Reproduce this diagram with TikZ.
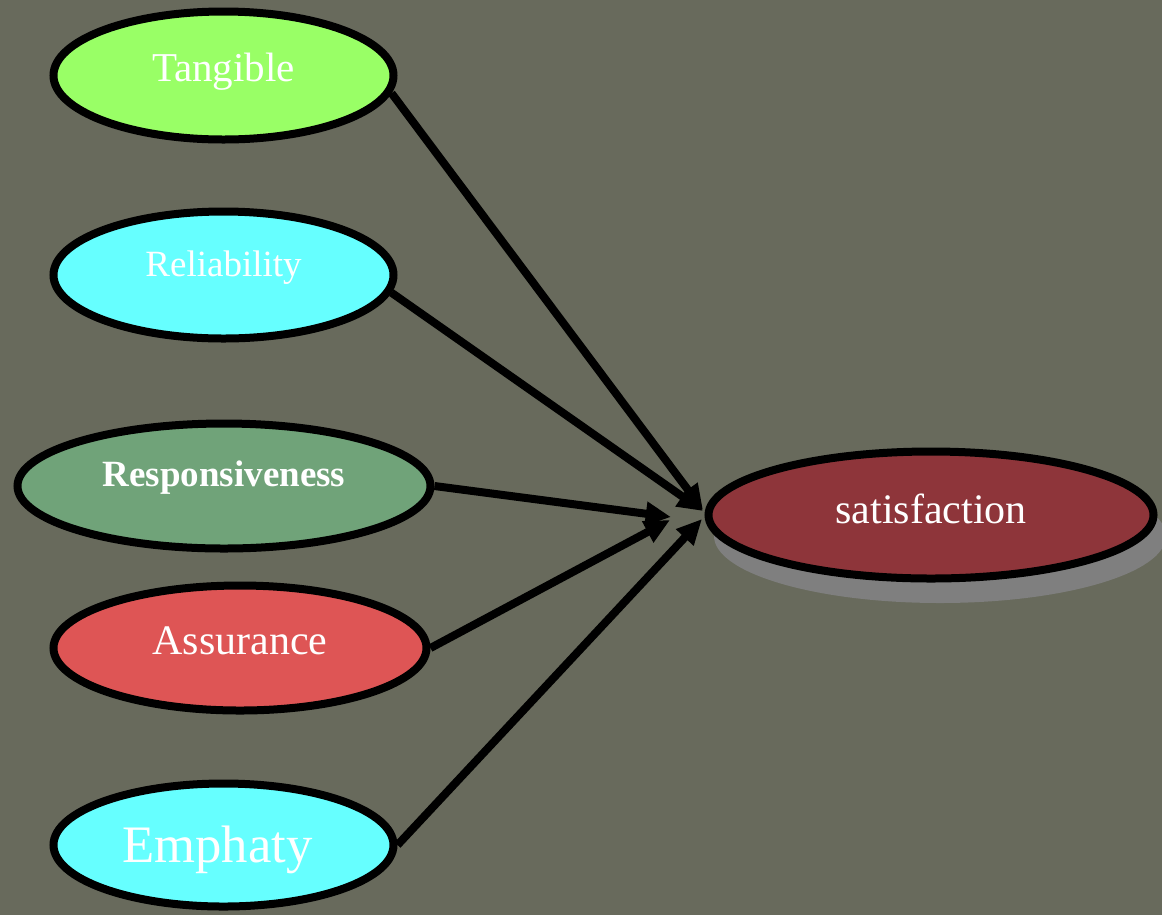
\documentclass[tikz,border=0pt]{standalone}
\usepackage{fontspec}
\setmainfont{Liberation Serif}
\usetikzlibrary{shapes.geometric,arrows.meta}

\definecolor{bgolive}{RGB}{104,106,92}
\definecolor{tangfill}{RGB}{153,255,102}
\definecolor{cyanfill}{RGB}{102,255,255}
\definecolor{respfill}{RGB}{112,163,121}
\definecolor{assufill}{RGB}{222,85,85}
\definecolor{satfill}{RGB}{142,53,58}
\definecolor{shadowgrey}{RGB}{127,127,127}

\tikzset{
  factor/.style={ellipse, draw=black, line width=6pt, inner sep=0pt,
    text=white, text depth=0pt},
  link/.style={line width=6pt, draw=black,
    -{Triangle[length=19pt,width=17pt]}},
}

\begin{document}
\begin{tikzpicture}[x=0.75pt,y=-0.75pt]
  % canvas
  \fill[bgolive] (0,0) rectangle (1162,915);
  \useasboundingbox (0,0) rectangle (1162,915);

  % shadow under the outcome ellipse
  \fill[shadowgrey] (940,536) ellipse [x radius=226, y radius=67];

  % predictor ellipses
  \node[factor, fill=tangfill, minimum width=255pt, minimum height=96pt,
        text height=9pt, font=\fontsize{30.75}{32}\selectfont]
        (tang) at (223.5,75.5) {Tangible};
  \node[factor, fill=cyanfill, minimum width=255pt, minimum height=95.25pt,
        text height=1.5pt, font=\fontsize{27.75}{30}\selectfont]
        (reli) at (223.5,275) {Reliability};
  \node[factor, fill=respfill, minimum width=309.75pt, minimum height=93.75pt,
        text height=0pt, font=\fontsize{27.75}{30}\selectfont\bfseries]
        (resp) at (224,486) {Responsiveness};
  \node[factor, fill=assufill, minimum width=279.75pt, minimum height=93.75pt,
        text height=9pt, font=\fontsize{31.5}{34}\selectfont]
        (assu) at (240,648) {Assurance};
  \node[factor, fill=cyanfill, minimum width=255pt, minimum height=92.25pt,
        text height=25.5pt, font=\fontsize{39.5}{42}\selectfont]
        (emph) at (223.5,845) {\hspace*{-9pt}Emphaty};

  % outcome ellipse
  \node[factor, fill=satfill, minimum width=333.75pt, minimum height=95.25pt,
        text height=12pt, font=\fontsize{31.5}{34}\selectfont]
        (sat) at (931,515) {satisfaction};

  % arrow tip positions in front of the outcome
  \coordinate (tipA) at (703,510);
  \coordinate (tipB) at (703,511);
  \coordinate (tipC) at (671,517);
  \coordinate (tipD) at (670,520);
  \coordinate (tipE) at (702,519);

  % paths, leaving each predictor from its right-hand side
  \draw[link] (tang.-6) -- (tipA);
  \draw[link] (reli.-6) -- (tipB);
  \draw[link] (resp.east) -- (tipC);
  \draw[link] (assu.east) -- (tipD);
  \draw[link] (emph.east) -- (tipE);
\end{tikzpicture}
\end{document}
